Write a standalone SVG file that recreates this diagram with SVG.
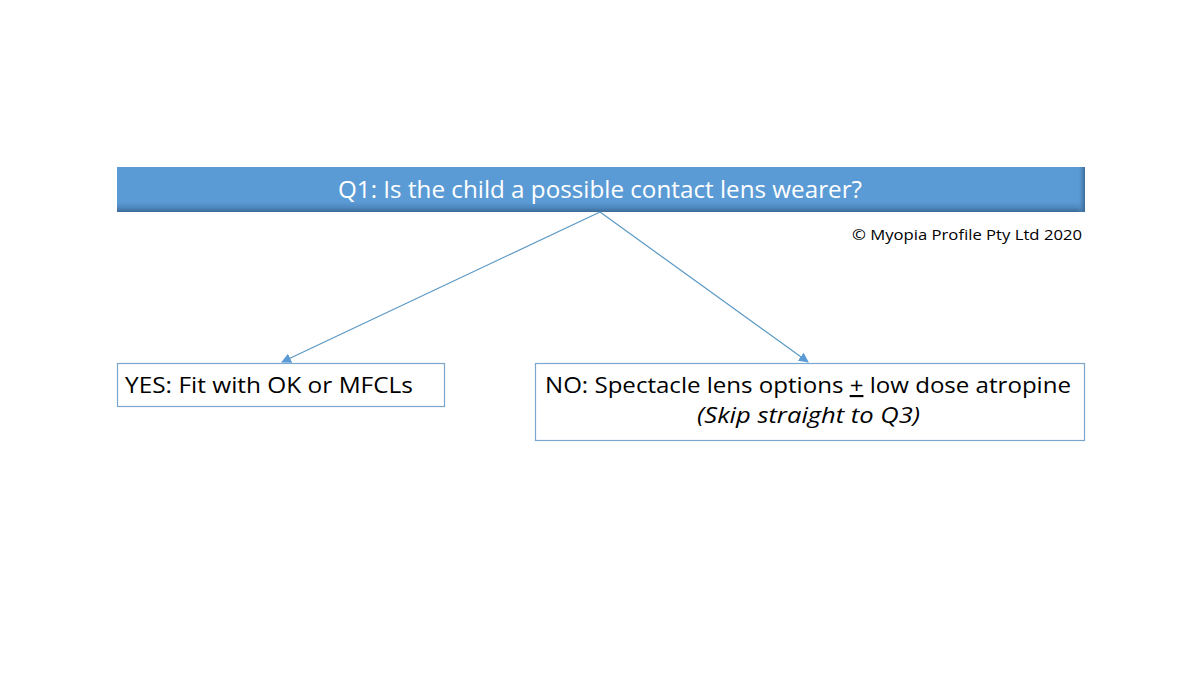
<svg xmlns="http://www.w3.org/2000/svg" width="1200" height="675" viewBox="0 0 1200 675">
  <defs>
    <linearGradient id="barV" x1="0" y1="0" x2="0" y2="1">
      <stop offset="0" stop-color="#5b9bd5"/>
      <stop offset="0.78" stop-color="#5b9bd5"/>
      <stop offset="0.9" stop-color="#4f88bf"/>
      <stop offset="1" stop-color="#3b6a96"/>
    </linearGradient>
    <linearGradient id="barH" x1="0" y1="0" x2="1" y2="0">
      <stop offset="0" stop-color="#5b9bd5" stop-opacity="0"/>
      <stop offset="1" stop-color="#3b6a96" stop-opacity="1"/>
    </linearGradient>
    <marker id="arrow" viewBox="0 0 10 10" refX="9" refY="5" markerWidth="10" markerHeight="10" markerUnits="userSpaceOnUse" orient="auto">
      <path d="M0,0 L10,5 L0,10 z" fill="#5b9bd5"/>
    </marker>
    <style>
      .txt { font-family: "Open Sans", "Liberation Sans", sans-serif; fill: #000; }
      .box { fill: #fff; stroke: #7aa7cf; stroke-width: 1.2; }
      .conn { stroke: #5a98c4; stroke-width: 1.2; fill: none; marker-end: url(#arrow); }
    </style>
  </defs>
  <rect width="1200" height="675" fill="#fff"/>

  <g id="q1">
    <rect x="117" y="167" width="968" height="45" fill="url(#barV)"/>
    <rect x="1077" y="167" width="8" height="45" fill="url(#barH)"/>
    <text class="txt" x="600" y="198" text-anchor="middle" font-size="23" style="fill:#fff" textLength="524" lengthAdjust="spacingAndGlyphs">Q1: Is the child a possible contact lens wearer?</text>
  </g>

  <g id="copyright">
    <text class="txt" x="1082" y="240" text-anchor="end" font-size="15" textLength="230" lengthAdjust="spacingAndGlyphs">© Myopia Profile Pty Ltd 2020</text>
  </g>

  <g id="connectors">
    <line class="conn" x1="600" y1="212" x2="282" y2="362"/>
    <line class="conn" x1="600" y1="212" x2="808" y2="362"/>
  </g>

  <g id="yes">
    <rect class="box" x="117.5" y="363.5" width="327" height="43"/>
    <text class="txt" x="125" y="393" font-size="21.5" textLength="288" lengthAdjust="spacingAndGlyphs">YES: Fit with OK or MFCLs</text>
  </g>

  <g id="no">
    <rect class="box" x="535.5" y="363.5" width="549" height="77"/>
    <text class="txt" x="545" y="393" font-size="21.5" textLength="526" lengthAdjust="spacingAndGlyphs">NO: Spectacle lens options <tspan text-decoration="underline">+</tspan> low dose atropine</text>
    <text class="txt" x="808.5" y="423" text-anchor="middle" font-size="21.5" font-style="italic" textLength="223" lengthAdjust="spacingAndGlyphs">(Skip straight to Q3)</text>
  </g>
</svg>
